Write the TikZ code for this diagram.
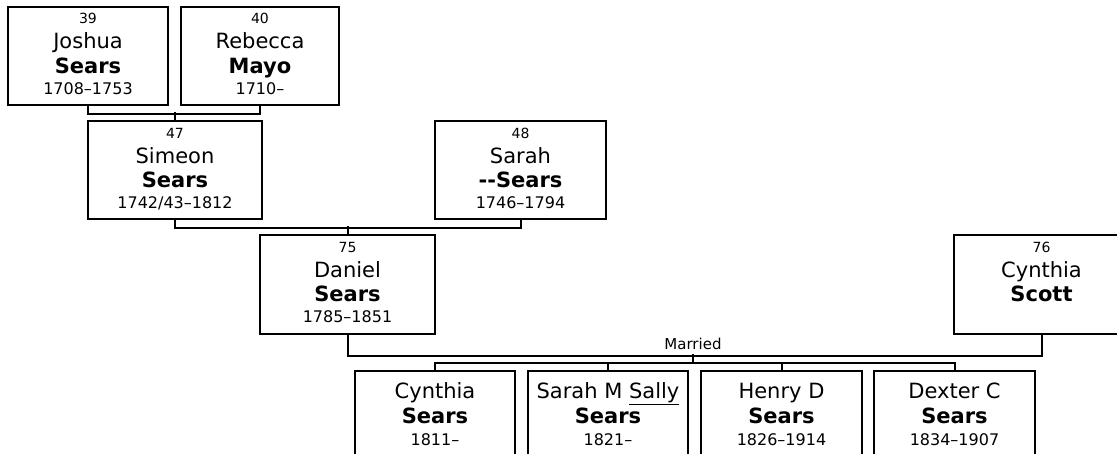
\documentclass[tikz,border=0pt]{standalone}
\usepackage{fontspec}
\setmainfont{DejaVu Sans}
\begin{document}
\begin{tikzpicture}[x=1pt,y=-1pt,
  box/.style={draw, line width=2pt, minimum height=98pt, inner sep=0pt, anchor=north west},
  num/.style={font=\fontsize{14}{16}\selectfont, anchor=base, inner sep=0pt},
  nm/.style={font=\fontsize{21}{24}\selectfont, anchor=base, inner sep=0pt},
  sn/.style={font=\fontsize{21}{24}\selectfont\bfseries, anchor=base, inner sep=0pt},
  yr/.style={font=\fontsize{16}{18}\selectfont, anchor=base, inner sep=0pt},
  lbl/.style={font=\fontsize{15}{17}\selectfont, anchor=base, inner sep=0pt},
  link/.style={line width=2pt}]
\useasboundingbox (0,0) rectangle (1117,453);
\clip (0,0) rectangle (1117,453);
% boxes
\node[box, minimum width=160pt] (j39) at (7,6) {};
\node[box, minimum width=158pt] (r40) at (180,6) {};
\node[box, minimum width=174pt] (s47) at (87,120) {};
\node[box, minimum width=171pt] (s48) at (434,120) {};
\node[box, minimum width=175pt, minimum height=99pt] (d75) at (259,234) {};
\node[box, minimum width=175pt, minimum height=99pt] (c76) at (953,234) {};
\node[box, minimum width=160pt] (ch1) at (354,370) {};
\node[box, minimum width=160pt] (ch2) at (527,370) {};
\node[box, minimum width=161pt] (ch3) at (700,370) {};
\node[box, minimum width=161pt] (ch4) at (873,370) {};
% texts
\node[num] (t39a) at ([yshift=-17pt]j39.north) {39};
\node[nm]  (t39b) at ([yshift=-42pt]j39.north) {Joshua};
\node[sn]  (t39c) at ([yshift=-67pt]j39.north) {Sears};
\node[yr]  (t39d) at ([yshift=-88pt]j39.north) {1708–1753};
\node[num] (t40a) at ([yshift=-17pt]r40.north) {40};
\node[nm]  (t40b) at ([yshift=-42pt]r40.north) {Rebecca};
\node[sn]  (t40c) at ([yshift=-67pt]r40.north) {Mayo};
\node[yr]  (t40d) at ([yshift=-88pt]r40.north) {1710–};
\node[num] (t47a) at ([yshift=-18pt]s47.north) {47};
\node[nm]  (t47b) at ([yshift=-43pt]s47.north) {Simeon};
\node[sn]  (t47c) at ([yshift=-67pt]s47.north) {Sears};
\node[yr]  (t47d) at ([yshift=-88pt]s47.north) {1742/43–1812};
\node[num] (t48a) at ([yshift=-18pt]s48.north) {48};
\node[nm]  (t48b) at ([yshift=-43pt]s48.north) {Sarah};
\node[sn]  (t48c) at ([yshift=-67pt]s48.north) {-{}-Sears};
\node[yr]  (t48d) at ([yshift=-88pt]s48.north) {1746–1794};
\node[num] (t75a) at ([yshift=-18pt]d75.north) {75};
\node[nm]  (t75b) at ([yshift=-43pt]d75.north) {Daniel};
\node[sn]  (t75c) at ([yshift=-67pt]d75.north) {Sears};
\node[yr]  (t75d) at ([yshift=-88pt]d75.north) {1785–1851};
\node[num] (t76a) at ([yshift=-18pt]c76.north) {76};
\node[nm]  (t76b) at ([yshift=-43pt]c76.north) {Cynthia};
\node[sn]  (t76c) at ([yshift=-67pt]c76.north) {Scott};
\node[nm]  (tc1b) at ([yshift=-28pt]ch1.north) {Cynthia};
\node[sn]  (tc1c) at ([yshift=-53pt]ch1.north) {Sears};
\node[yr]  (tc1d) at ([yshift=-75pt]ch1.north) {1811–};
\node[nm]  (tc2b) at ([yshift=-28pt]ch2.north) {Sarah M \underline{Sally}};
\node[sn]  (tc2c) at ([yshift=-53pt]ch2.north) {Sears};
\node[yr]  (tc2d) at ([yshift=-75pt]ch2.north) {1821–};
\node[nm]  (tc3b) at ([yshift=-28pt]ch3.north) {Henry D};
\node[sn]  (tc3c) at ([yshift=-53pt]ch3.north) {Sears};
\node[yr]  (tc3d) at ([yshift=-75pt]ch3.north) {1826–1914};
\node[nm]  (tc4b) at ([yshift=-28pt]ch4.north) {Dexter C};
\node[sn]  (tc4c) at ([yshift=-53pt]ch4.north) {Sears};
\node[yr]  (tc4d) at ([yshift=-75pt]ch4.north) {1834–1907};
% connectors
\draw[link] (j39.south) -- ++(0,8) -| (r40.south);
\draw[link] (s47.north) -- ++(0,-8);
\draw[link] (s47.south) -- ++(0,8) -| (s48.south);
\draw[link] (d75.north) -- ++(0,-8);
\draw[link] (d75.south) -- ++(0,21) -| (c76.south);
\coordinate (mm) at (693,354);
\node[lbl] (married) at (693,349) {Married};
\draw[link] (mm) -- ++(0,9);
\draw[link] (ch1.north) -- ++(0,-7) -| (ch4.north);
\draw[link] (ch2.north) -- ++(0,-7);
\draw[link] (ch3.north) -- ++(0,-7);
\end{tikzpicture}
\end{document}
